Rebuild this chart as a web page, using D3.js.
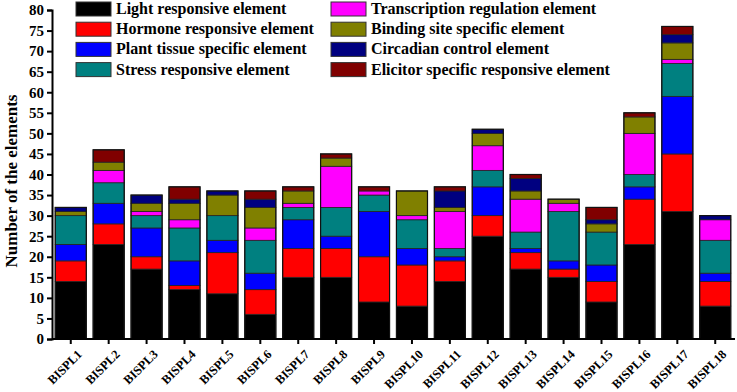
<!DOCTYPE html>
<html>
<head>
<meta charset="utf-8">
<script src="https://cdn.jsdelivr.net/npm/d3@7/dist/d3.min.js"></script>
<style>
  body { margin: 0; background: #fff; }
  svg text { font-family: "Liberation Serif", "Times New Roman", serif; font-weight: bold; }
</style>
</head>
<body>
<div id="chart"></div>
<script>
const width = 737;
const height = 392;

// categories (genes)
const genes = ["BISPL1", "BISPL2", "BISPL3", "BISPL4", "BISPL5", "BISPL6", "BISPL7", "BISPL8", "BISPL9",
  "BISPL10", "BISPL11", "BISPL12", "BISPL13", "BISPL14", "BISPL15", "BISPL16", "BISPL17", "BISPL18"];

const seriesNames = ["Light responsive element", "Hormone responsive element", "Plant tissue specific element",
  "Stress responsive element", "Transcription regulation element", "Binding site specific element",
  "Circadian control element", "Elicitor specific responsive element"];

// series values, one entry per gene
const light         = [14, 23, 17, 12, 11, 6, 15, 15, 9, 8, 14, 25, 17, 15, 9, 23, 31, 8];
const hormone       = [5, 5, 3, 1, 10, 6, 7, 7, 11, 10, 5, 5, 4, 2, 5, 11, 14, 6];
const tissue        = [4, 5, 7, 6, 3, 4, 7, 3, 11, 4, 1, 7, 1, 2, 4, 3, 14, 2];
const stress        = [7, 5, 3, 8, 6, 8, 3, 7, 4, 7, 2, 4, 4, 12, 8, 3, 8, 8];
const transcription = [0, 3, 1, 2, 0, 3, 1, 10, 1, 1, 9, 6, 8, 2, 0, 10, 1, 5];
const binding       = [1, 2, 2, 4, 5, 5, 3, 2, 0, 6, 1, 3, 2, 1, 2, 4, 4, 0];
const circadian     = [1, 0, 2, 1, 1, 2, 0, 0, 0, 0, 4, 1, 3, 0, 1, 0, 2, 1];
const elicitor      = [0, 3, 0, 3, 0, 2, 1, 1, 1, 0, 1, 0, 1, 0, 3, 1, 2, 0];

const yTicks = d3.range(0, 81, 5);

const colors = ["#000000", "#ff0000", "#0000ff", "#008080", "#ff00ff", "#808000", "#000080", "#800000"];

const seriesValues = [light, hormone, tissue, stress, transcription, binding, circadian, elicitor];
const rows = genes.map((g, i) => {
  let r = { gene: g };
  seriesNames.forEach((s, k) => { r[s] = seriesValues[k][i]; });
  return r;
});

const stack = d3.stack().keys(seriesNames);
const stacked = stack(rows);

let x = d3.scaleBand().domain(genes).range([52, 734]).paddingInner(0.18).paddingOuter(0.085);
let y = d3.scaleLinear().domain([0, 80]).range([339, 10]);

let svg = d3.select("#chart").append("svg")
  .attr("width", width)
  .attr("height", height);

// bars
svg.append("g")
  .selectAll("g")
  .data(stacked)
  .enter().append("g")
  .attr("fill", (d, i) => colors[i])
  .selectAll("rect")
  .data(d => d.filter(p => p[1] > p[0]))
  .enter().append("rect")
  .attr("x", d => x(d.data.gene))
  .attr("y", d => y(d[1]))
  .attr("width", x.bandwidth())
  .attr("height", d => y(d[0]) - y(d[1]))
  .attr("stroke", "#222")
  .attr("stroke-width", 0.8);

// outline of each full bar
svg.append("g")
  .selectAll("rect")
  .data(genes)
  .enter().append("rect")
  .attr("x", g => x(g))
  .attr("y", (g, i) => y(d3.sum(seriesValues, s => s[i])))
  .attr("width", x.bandwidth())
  .attr("height", (g, i) => y(0) - y(d3.sum(seriesValues, s => s[i])))
  .attr("fill", "none")
  .attr("stroke", "#111")
  .attr("stroke-width", 1.2);

// y axis
let yAxis = svg.append("g")
  .attr("transform", "translate(52,0)")
  .call(d3.axisLeft(y).tickValues(yTicks).tickSize(5).tickPadding(3));
yAxis.select(".domain").attr("stroke-width", 2);
yAxis.selectAll(".tick line").attr("stroke-width", 2);
yAxis.selectAll("text").style("font-size", "15px").attr("fill", "#000");

// x axis
let xAxis = svg.append("g")
  .attr("transform", "translate(0,339)")
  .call(d3.axisBottom(x).tickSize(5).tickSizeOuter(0));
xAxis.select(".domain").attr("stroke-width", 2).attr("d", "M52,0H735");
xAxis.selectAll(".tick line").attr("stroke-width", 2);
xAxis.selectAll("text")
  .style("font-size", "12.5px")
  .attr("fill", "#000")
  .attr("text-anchor", "end")
  .attr("x", 0)
  .attr("y", 0)
  .attr("dy", 0)
  .attr("transform", "translate(12,16) rotate(-45)");

// y label
svg.append("text")
  .attr("transform", "translate(17," + 181 + ") rotate(-90)")
  .attr("text-anchor", "middle")
  .style("font-size", "17px")
  .text("Number of the elements");

// legend
let legend = svg.append("g");
seriesNames.forEach((s, i) => {
  let col = Math.floor(i / 4), row = i % 4;
  let lx = col === 0 ? 76 : 331;
  let ly = 2 + row * 20.2;
  legend.append("rect")
    .attr("x", lx).attr("y", ly)
    .attr("width", 35).attr("height", 14)
    .attr("fill", colors[i])
    .attr("stroke", "#333").attr("stroke-width", 1);
  legend.append("text")
    .attr("x", lx + 40).attr("y", ly + 12)
    .style("font-size", "16px")
    .text(s);
});
</script>
</body>
</html>
